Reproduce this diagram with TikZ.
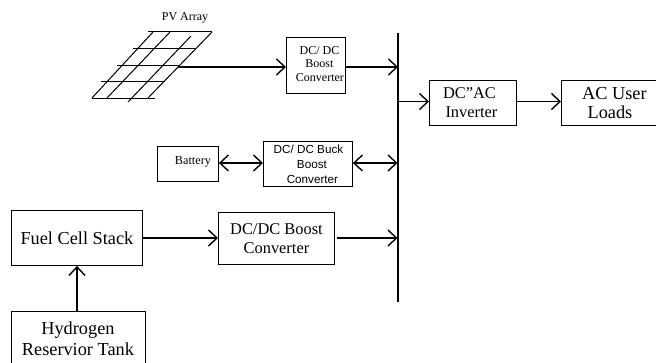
\documentclass[tikz,border=0pt]{standalone}
\usepackage{fontspec}
\setmainfont{Liberation Serif}
\setsansfont{Liberation Sans}
\usetikzlibrary{arrows.meta}
\tikzset{
  box/.style={draw=black,line width=0.9pt,inner sep=0pt,align=center,text=black,anchor=north west},
  flow/.style={draw=black,line width=1.7pt,-{Straight Barb[length=8.5pt,width=16pt,line width=1.4pt]}},
  flowtwo/.style={draw=black,line width=1.7pt,{Straight Barb[length=8.5pt,width=16pt,line width=1.4pt]}-{Straight Barb[length=8.5pt,width=16pt,line width=1.4pt]}},
  panel/.style={draw=black,line width=1pt},
  bus/.style={draw=black,line width=2pt},
  big/.style={font=\fontsize{18.3}{21}\selectfont},
  mid/.style={font=\fontsize{16.4}{18.5}\selectfont},
  small/.style={font=\fontsize{12}{13.6}\selectfont},
  smallsans/.style={font=\sffamily\fontsize{11.7}{14}\selectfont}
}
\begin{document}
\begin{tikzpicture}[x=1pt,y=-1pt]
\useasboundingbox (0,0) rectangle (656,362);
% PV panel
\draw[panel] (148,31.5) -- (212,31.5);
\draw[panel] (133,48) -- (196,48);
\draw[panel] (117,65) -- (180,65);
\draw[panel] (101,81) -- (165,81);
\draw[panel] (91.5,98) -- (155,98);
\draw[panel] (153,32) -- (92,98);
\draw[panel] (170,32) -- (107,98);
\draw[panel] (191,36) -- (128,102);
\draw[panel] (212,32) -- (148,98);
\node[anchor=center,font=\fontsize{12}{14}\selectfont,inner sep=0pt] (pvlabel) at (185,17.5) {PV Array};
\coordinate (pv) at (178,67);
% boxes
\node[box,minimum width=59pt,minimum height=56pt,small] (b1) at (286,37) {\raisebox{3pt}{\hspace*{7pt}DC/ DC}\\\raisebox{3pt}{\hspace*{7pt}Boost}\\\raisebox{3pt}{\hspace*{8pt}Converter}};
\node[box,minimum width=61pt,minimum height=35pt] (bat) at (157,146) {\raisebox{6pt}{\fontsize{12.2}{14}\selectfont\hspace*{10pt}Battery}};
\node[box,minimum width=89pt,minimum height=45pt,smallsans] (b2) at (263,141) {\raisebox{2pt}{\hspace*{1pt}DC/ DC Buck}\\\raisebox{1pt}{\hspace*{8pt}Boost}\\\hspace*{9pt}Converter};
\node[box,minimum width=116pt,minimum height=52pt,mid] (b3) at (218,212) {DC/DC Boost\\Converter};
\node[box,minimum width=131pt,minimum height=55pt,big] (fuel) at (11,210) {Fuel Cell Stack};
\node[box,minimum width=134pt,minimum height=56pt,big] (tank) at (10.5,310.5) {Hydrogen\\Reservior Tank};
\node[box,minimum width=87pt,minimum height=45pt,mid] (inv) at (429,80) {\raisebox{1pt}{DC''AC\hspace*{7pt}}\\\raisebox{1pt}{Inverter\hspace*{3pt}}};
\node[box,minimum width=100pt,minimum height=45pt,big,align=center] (load) at (561,80) {\raisebox{1pt}{\hspace*{6pt}AC User}\\[-2.5pt]\hspace*{-3pt}Loads};
% bus
\coordinate (bustop) at (398,33);
\coordinate (busbot) at (398,302);
\draw[bus] (bustop) -- (busbot);
\coordinate (ba) at (398,67);
\coordinate (bb) at (398,101.5);
\coordinate (bc) at (397.5,163);
\coordinate (bd) at (397.5,238);
% connectors
\draw[flow] (pv) -- (b1.west |- pv);
\draw[flow] (b1.east |- ba) -- (ba);
\draw[flow,line width=1.3pt] (bb) -- (inv.west |- bb);
\draw[flow] (inv.east |- bb) -- (load.west |- bb);
\draw[flowtwo] (bat.east |- 0,163) -- (b2.west |- 0,163);
\draw[flowtwo] (b2.east |- bc) -- (bc);
\draw[flow] (fuel.east |- bd) -- (b3.west |- bd);
\draw[flow] ([xshift=2pt]b3.east |- bd) -- (bd);
\draw[flow] (tank.north -| 77,0) -- (fuel.south -| 77,0);
\end{tikzpicture}
\end{document}
